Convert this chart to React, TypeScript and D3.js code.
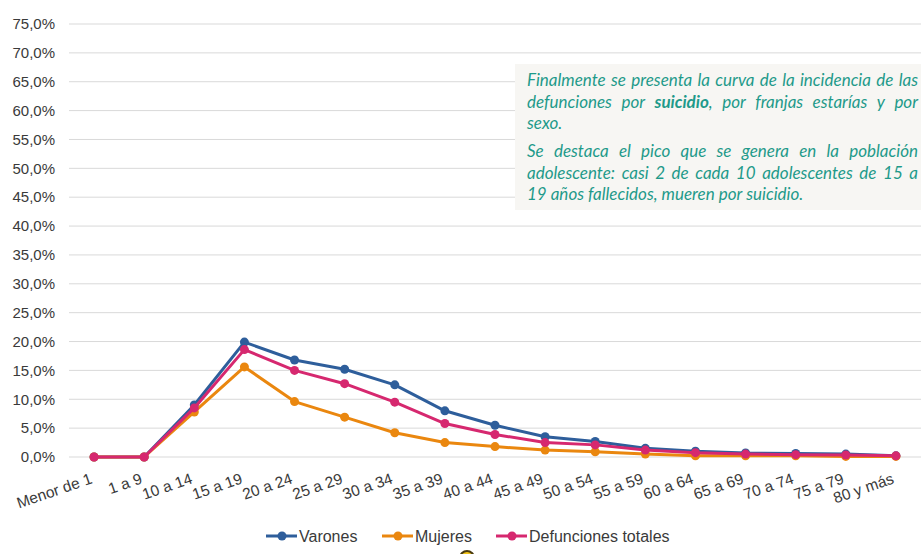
import React from "react";
import * as d3 from "d3";

const categories = ["Menor de 1","1 a 9","10 a 14","15 a 19","20 a 24","25 a 29","30 a 34","35 a 39","40 a 44","45 a 49","50 a 54","55 a 59","60 a 64","65 a 69","70 a 74","75 a 79","80 y más"];
const varones = [0,0,9.0,19.9,16.8,15.2,12.5,8.0,5.5,3.5,2.7,1.5,1.0,0.7,0.6,0.5,0.2];
const mujeres = [0,0,7.8,15.6,9.6,6.9,4.2,2.5,1.8,1.2,0.9,0.5,0.2,0.2,0.2,0.1,0.1];
const totales = [0,0,8.5,18.6,15.0,12.7,9.5,5.8,3.9,2.5,2.1,1.2,0.75,0.5,0.4,0.35,0.2];
const yTicks = [0,5,10,15,20,25,30,35,40,45,50,55,60,65,70,75];

const seriesNames = ["Varones","Mujeres","Defunciones totales"];
const seriesColors = ["#2E5E9B","#EA870F","#D6286F"];
const seriesData = [varones, mujeres, totales];

type Seg = { t: string; b?: boolean };
const boxLines: { segs: Seg[]; justify: boolean; y: number }[] = [
  { segs: [{ t: "Finalmente se presenta la curva de la incidencia de las" }], justify: true, y: 86 },
  { segs: [{ t: "defunciones por " }, { t: "suicidio", b: true }, { t: ", por franjas estarías y por" }], justify: true, y: 108 },
  { segs: [{ t: "sexo." }], justify: false, y: 129 },
  { segs: [{ t: "Se destaca el pico que se genera en la población" }], justify: true, y: 157 },
  { segs: [{ t: "adolescente: casi 2 de cada 10 adolescentes de 15 a" }], justify: true, y: 179 },
  { segs: [{ t: "19 años fallecidos, mueren por suicidio." }], justify: false, y: 200 },
];

const W = 921, H = 554;
const boxFont = "Lato";
const axisFont = "'Liberation Sans', Arial, sans-serif";
const textColor = "#3a3a3a";

let ctx: CanvasRenderingContext2D | null = null;
function measure(t: string, bold: boolean, size: number) {
  if (!ctx) ctx = document.createElement("canvas").getContext("2d");
  if (!ctx) return t.length * size * 0.45;
  ctx.font = `italic ${bold ? "bold " : ""}${size}px ${boxFont}`;
  return ctx.measureText(t).width;
}

function BoxText() {
  const x0 = 527, x1 = 918;
  const baseW = measure(boxLines[0].segs[0].t, false, 100);
  const size = Math.min(17, Math.max(13, (x1 - x0) / baseW * 100 * 0.99));
  const out: JSX.Element[] = [];
  boxLines.forEach((ln, li) => {
    const tokens: { t: string; b: boolean; joinPrev: boolean }[] = [];
    let prevEndsSpace = true;
    ln.segs.forEach((s) => {
      const parts = s.t.split(" ");
      parts.forEach((p, i) => {
        if (p === "") return;
        const joinPrev = i === 0 && !prevEndsSpace && tokens.length > 0;
        tokens.push({ t: p, b: !!s.b, joinPrev });
      });
      prevEndsSpace = s.t.endsWith(" ");
    });
    const words: { parts: { t: string; b: boolean }[]; w: number }[] = [];
    tokens.forEach((tk) => {
      const w = measure(tk.t, tk.b, size);
      if (tk.joinPrev && words.length) {
        words[words.length - 1].parts.push({ t: tk.t, b: tk.b });
        words[words.length - 1].w += w;
      } else words.push({ parts: [{ t: tk.t, b: tk.b }], w });
    });
    const total = words.reduce((a, w) => a + w.w, 0);
    const natSpace = measure(" ", false, size);
    const gap = ln.justify && words.length > 1 ? Math.max(natSpace * 0.8, (x1 - x0 - total) / (words.length - 1)) : natSpace;
    let x = x0;
    words.forEach((w, wi) => {
      let px = x;
      w.parts.forEach((p, pi) => {
        out.push(
          <text key={`${li}-${wi}-${pi}`} x={px} y={ln.y} fontFamily={boxFont} fontStyle="italic" fontWeight={p.b ? "bold" : "normal"} fontSize={size} fill="#1E9A8A">{p.t}</text>
        );
        px += measure(p.t, p.b, size);
      });
      x += w.w + gap;
    });
  });
  return <g>{out}</g>;
}

export default function App() {
  const x = d3.scalePoint<string>().domain(categories).range([69, 921]).padding(0.5);
  const y = d3.scaleLinear().domain([0, 75]).range([457, 24]);
  const line = d3.line<number>().x((_, i) => x(categories[i])!).y((d) => y(d));

  const legendItems = [
    { lx: 266, tx: 299 },
    { lx: 382, tx: 415 },
    { lx: 496, tx: 529 },
  ];

  return (
    <div style={{ position: "absolute", left: 0, top: 0 }}>
      <svg width={W} height={H} style={{ display: "block", background: "#fff" }}>
        {yTicks.map((t) => (
          <g key={t}>
            <line x1={69} x2={921} y1={y(t)} y2={y(t)} stroke="#d9d9d9" strokeWidth={1} />
            <text x={55} y={y(t)} dy="0.35em" textAnchor="end" fontFamily={axisFont} fontSize={15} fill={textColor}>
              {d3.format(".1f")(t).replace(".", ",") + "%"}
            </text>
          </g>
        ))}
        {categories.map((c) => (
          <text key={c} transform={`translate(${x(c)! - 1},${483}) rotate(-19)`} textAnchor="end" fontFamily={axisFont} fontSize={15.5} fill={textColor}>
            {c}
          </text>
        ))}
        {[0, 1, 2].map((s) => (
          <g key={s}>
            <path d={line(seriesData[s])!} fill="none" stroke={seriesColors[s]} strokeWidth={3} strokeLinejoin="round" />
            {seriesData[s].map((v, i) => (
              <circle key={i} cx={x(categories[i])!} cy={y(v)} r={4.5} fill={seriesColors[s]} />
            ))}
          </g>
        ))}
        <rect x={515} y={64} width={406} height={146} fill="#F7F6F3" />
        <BoxText />
        {legendItems.map((li, i) => (
          <g key={i}>
            <line x1={li.lx} x2={li.lx + 31} y1={536} y2={536} stroke={seriesColors[i]} strokeWidth={3} />
            <circle cx={li.lx + 16} cy={536} r={4.5} fill={seriesColors[i]} />
            <text x={li.tx} y={536} dy="0.35em" fontFamily={axisFont} fontSize={16} fill={textColor}>{seriesNames[i]}</text>
          </g>
        ))}
        <circle cx={467} cy={558} r={7} fill="#F2C418" stroke="#4a3b10" strokeWidth={2} />
      </svg>
    </div>
  );
}
